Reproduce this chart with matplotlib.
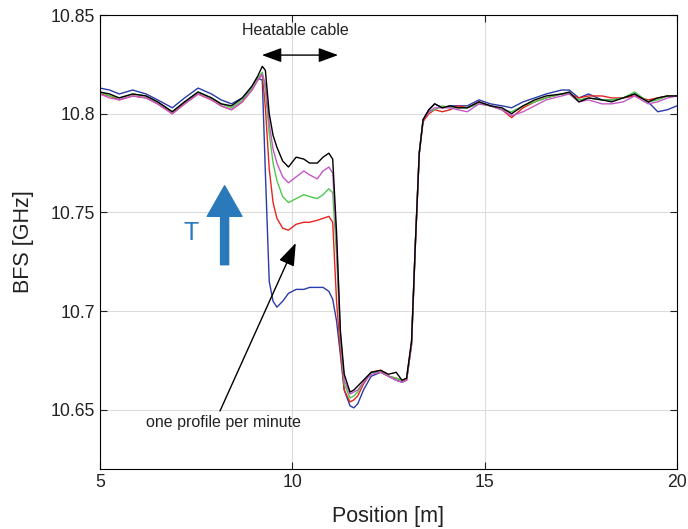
import matplotlib as mpl
mpl.use("Agg")
import matplotlib.pyplot as plt

plt.rcParams['font.family'] = ['Liberation Sans', 'DejaVu Sans']

# positions along the fibre [m]
position = [5.0, 5.25, 5.5, 5.85, 6.2, 6.5, 6.88, 7.2, 7.55, 7.9,
            8.15, 8.42, 8.7, 8.95, 9.1, 9.22, 9.3, 9.4, 9.5, 9.6,
            9.75, 9.9, 10.1, 10.3, 10.45, 10.65, 10.8, 10.95, 11.05, 11.15,
            11.25, 11.35, 11.5, 11.6, 11.7, 11.85, 12.05, 12.3, 12.5, 12.7,
            12.85, 12.97, 13.1, 13.2, 13.3, 13.4, 13.55, 13.7, 13.9, 14.1,
            14.3, 14.55, 14.85, 15.15, 15.45, 15.7, 16.0, 16.3, 16.6, 17.0,
            17.2, 17.45, 17.7, 18.05, 18.3, 18.6, 18.9, 19.25, 19.5, 19.75,
            20.0]

# BFS profiles [GHz], one per minute
bfs_min1 = [10.813, 10.812, 10.810, 10.812, 10.810, 10.807, 10.803, 10.808, 10.813, 10.810,
            10.807, 10.805, 10.808, 10.813, 10.818, 10.817, 10.770, 10.715, 10.705, 10.702,
            10.705, 10.709, 10.711, 10.711, 10.712, 10.712, 10.712, 10.710, 10.706, 10.695,
            10.678, 10.660, 10.652, 10.651, 10.653, 10.660, 10.667, 10.669, 10.667, 10.665,
            10.664, 10.665, 10.683, 10.734, 10.780, 10.797, 10.802, 10.805, 10.803, 10.804,
            10.804, 10.804, 10.807, 10.805, 10.804, 10.803, 10.806, 10.808, 10.810, 10.812,
            10.812, 10.808, 10.810, 10.807, 10.807, 10.808, 10.810, 10.806, 10.801, 10.802,
            10.804]
bfs_min2 = [10.810, 10.809, 10.807, 10.809, 10.808, 10.805, 10.800, 10.805, 10.810, 10.807,
            10.804, 10.802, 10.806, 10.812, 10.817, 10.820, 10.803, 10.772, 10.755, 10.747,
            10.742, 10.741, 10.744, 10.745, 10.745, 10.746, 10.747, 10.748, 10.745, 10.705,
            10.680, 10.660, 10.654, 10.655, 10.657, 10.663, 10.669, 10.670, 10.667, 10.666,
            10.665, 10.665, 10.683, 10.734, 10.780, 10.796, 10.800, 10.802, 10.801, 10.802,
            10.804, 10.803, 10.806, 10.804, 10.802, 10.798, 10.803, 10.806, 10.808, 10.810,
            10.810, 10.808, 10.809, 10.809, 10.808, 10.808, 10.809, 10.807, 10.808, 10.809,
            10.809]
bfs_min3 = [10.811, 10.809, 10.808, 10.810, 10.809, 10.806, 10.801, 10.806, 10.811, 10.808,
            10.805, 10.803, 10.807, 10.813, 10.818, 10.821, 10.812, 10.790, 10.775, 10.766,
            10.758, 10.755, 10.757, 10.759, 10.758, 10.757, 10.759, 10.762, 10.760, 10.728,
            10.686, 10.663, 10.656, 10.657, 10.659, 10.664, 10.669, 10.669, 10.667, 10.666,
            10.665, 10.666, 10.684, 10.735, 10.780, 10.797, 10.801, 10.802, 10.804, 10.803,
            10.803, 10.803, 10.805, 10.804, 10.802, 10.801, 10.804, 10.806, 10.808, 10.810,
            10.810, 10.807, 10.808, 10.807, 10.807, 10.808, 10.811, 10.806, 10.807, 10.809,
            10.809]
bfs_min4 = [10.810, 10.808, 10.807, 10.809, 10.808, 10.805, 10.800, 10.805, 10.810, 10.807,
            10.804, 10.802, 10.806, 10.812, 10.817, 10.820, 10.815, 10.795, 10.782, 10.775,
            10.768, 10.765, 10.768, 10.771, 10.769, 10.767, 10.771, 10.773, 10.770, 10.735,
            10.688, 10.665, 10.658, 10.659, 10.660, 10.664, 10.668, 10.669, 10.667, 10.665,
            10.664, 10.665, 10.684, 10.735, 10.780, 10.797, 10.801, 10.803, 10.803, 10.803,
            10.802, 10.801, 10.805, 10.804, 10.802, 10.799, 10.801, 10.804, 10.807, 10.809,
            10.810, 10.806, 10.807, 10.805, 10.805, 10.806, 10.809, 10.805, 10.806, 10.808,
            10.809]
bfs_min5 = [10.811, 10.810, 10.808, 10.810, 10.809, 10.806, 10.801, 10.806, 10.811, 10.808,
            10.805, 10.804, 10.808, 10.814, 10.819, 10.824, 10.822, 10.800, 10.789, 10.783,
            10.776, 10.773, 10.778, 10.777, 10.775, 10.775, 10.778, 10.780, 10.777, 10.740,
            10.690, 10.668, 10.659, 10.660, 10.662, 10.665, 10.669, 10.670, 10.668, 10.669,
            10.665, 10.666, 10.685, 10.735, 10.780, 10.797, 10.802, 10.805, 10.803, 10.804,
            10.803, 10.803, 10.806, 10.804, 10.803, 10.800, 10.804, 10.807, 10.809, 10.810,
            10.811, 10.806, 10.808, 10.807, 10.806, 10.808, 10.810, 10.806, 10.808, 10.809,
            10.809]

profiles = [bfs_min1, bfs_min2, bfs_min3, bfs_min4, bfs_min5]
colors = ["#2a3aa8", "#e8231f", "#4ec94e", "#c657c6", "black"]

fig = plt.figure(figsize=(6.88, 5.29), dpi=100)
ax = fig.add_axes([0.1453, 0.1134, 0.8387, 0.8582])

for y, c in zip(profiles, colors):
    ax.plot(position, y, color=c, linewidth=1.0)

ax.set_xlim(5, 20)
ax.set_ylim(10.62, 10.85)
ax.set_xticks([5, 10, 15, 20])
ax.set_yticks([10.65, 10.7, 10.75, 10.8, 10.85])
ax.set_yticklabels(["10.65", "10.7", "10.75", "10.8", "10.85"])
ax.grid(True, color="#dcdcdc", linewidth=0.8)
ax.tick_params(direction="in", top=True, right=True, labelsize=12.7, length=5,
               colors="#222222", labelcolor="#222222")
ax.set_xlabel("Position [m]", fontsize=15.5, labelpad=11, color="#222222")
ax.set_ylabel("BFS [GHz]", fontsize=15.5, labelpad=12, color="#222222")

# heatable cable marker
ax.annotate("", xy=(9.21, 10.8297), xytext=(11.19, 10.8297),
            arrowprops=dict(arrowstyle="<|-|>,head_length=0.6,head_width=0.22",
                            color="black", lw=1.0, mutation_scale=20,
                            shrinkA=0, shrinkB=0))
ax.text(10.07, 10.8424, "Heatable cable", ha="center", va="center", fontsize=11.5,
        color="#222222")

# temperature arrow
ax.annotate("", xy=(8.24, 10.7635), xytext=(8.24, 10.7235),
            arrowprops=dict(arrowstyle="simple,head_width=2.5,head_length=2.2,tail_width=0.58",
                            color="#2a7abb", mutation_scale=10, shrinkA=0, shrinkB=0))
ax.text(7.38, 10.7395, "T", color="#2a7abb", fontsize=18, ha="center", va="center")

# profile annotation
ax.annotate("", xy=(10.09, 10.7345), xytext=(8.12, 10.6494),
            arrowprops=dict(arrowstyle="-|>,head_length=0.7,head_width=0.25",
                            color="black", lw=1.0, mutation_scale=20,
                            shrinkA=0, shrinkB=0))
ax.text(8.2, 10.6438, "one profile per minute", ha="center", va="center", fontsize=11.5,
        color="#222222")

fig.savefig("out.png", dpi=100)
